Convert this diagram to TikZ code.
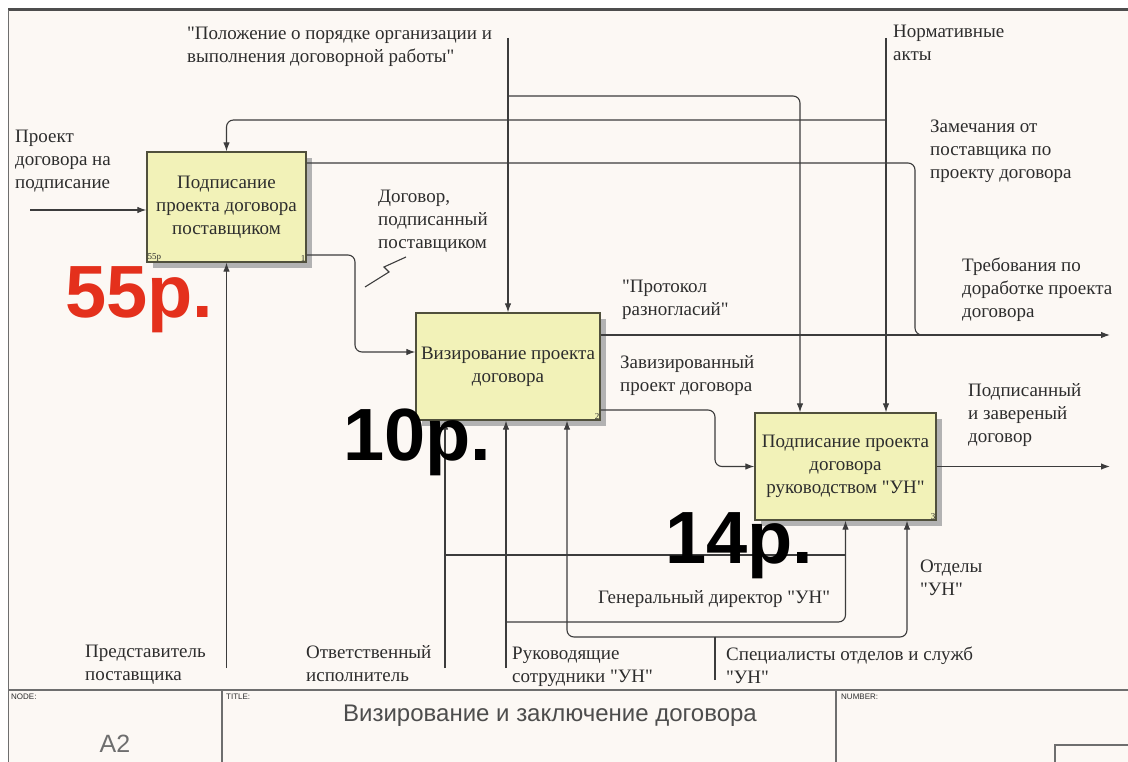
\documentclass[tikz,border=0pt]{standalone}
\usepackage{fontspec}
\setmainfont{Liberation Serif}
\newfontfamily\arialfont{Liberation Sans}
\usetikzlibrary{arrows.meta}
\usetikzlibrary{shadows}

\definecolor{paper}{RGB}{252,248,244}
\definecolor{boxfill}{RGB}{242,242,184}
\definecolor{boxline}{RGB}{80,80,60}
\definecolor{linegray}{RGB}{60,60,60}
\definecolor{textgray}{RGB}{45,45,45}
\definecolor{pricered}{RGB}{228,48,28}
\definecolor{framegray}{RGB}{110,110,110}

\newcommand{\qq}{\textquotedbl}

\tikzset{
  act/.style={draw=boxline, fill=boxfill, line width=1.3pt, inner sep=1pt, align=center,
    text=textgray, font=\fontsize{19}{23}\selectfont,
    drop shadow={shadow xshift=6pt, shadow yshift=-6pt, fill=black!30, opacity=1}},
  lbl/.style={anchor=north west, align=left, inner sep=0pt, text=textgray,
    font=\fontsize{19}{23}\selectfont},
  price/.style={anchor=base west, inner sep=0pt,
    font=\arialfont\bfseries\fontsize{74}{74}\selectfont},
  flow/.style={draw=linegray, line width=1.1pt, rounded corners=7pt,
    -{Latex[length=9pt,width=6.5pt]}},
  wire/.style={draw=linegray, line width=1.1pt, rounded corners=7pt},
  tiny/.style={inner sep=1pt, text=textgray, font=\fontsize{9}{9}\selectfont},
  caption/.style={anchor=north west, inner sep=0pt, text=textgray,
    font=\arialfont\fontsize{8}{8}\selectfont},
}

\begin{document}
\begin{tikzpicture}[x=1pt, y=-1pt]
            % sheet and frame
            \useasboundingbox (0,0) rectangle (1128,762);
            \fill[white] (0,0) rectangle (1128,762);
            \fill[paper] (8,10) rectangle (1128,762);
            \draw[framegray!70!black, line width=3pt] (8,10) -- (1128,10);
            \draw[framegray, line width=1pt] (8,10) -- (8,762);
            \draw[framegray, line width=1.8pt] (8,690) -- (1128,690);
            \draw[framegray, line width=1.2pt] (222,690) -- (222,762);
            \draw[framegray, line width=1.2pt] (836,690) -- (836,762);
            \draw[framegray, line width=1.2pt] (1128,745) -| (1055,762);

            % A1
            \node[act, minimum width=159pt, minimum height=110pt] (b1) at (226.5,207)
                {Подписание\\проекта договора\\поставщиком};
            \node[tiny, anchor=south east] (b1n) at (b1.south east) {1};
            \node[tiny, anchor=south west] (b1c) at (b1.south west) {55р};

            % A2
            \node[act, minimum width=184pt, minimum height=107pt] (b2) at (508,366.5)
                {Визирование проекта\\договора};
            \node[tiny, anchor=south east] (b2n) at (b2.south east) {2};

            % A3
            \node[act, minimum width=181pt, minimum height=107pt] (b3) at (845.5,466.5)
                {Подписание проекта\\договора\\руководством \qq УН\qq};
            \node[tiny, anchor=south east] (b3n) at (b3.south east) {3};

            % ends of the arrows
            \coordinate (in1) at (30,210);
            \coordinate (c1) at (508,38);
            \coordinate (c1j) at (508,96);
            \coordinate (c2) at (886,38);
            \coordinate (c2j) at (886,120);
            \coordinate (o1j) at (915,335);
            \coordinate (o2) at (1110,335);
            \coordinate (o3) at (1110,466.5);
            \coordinate (m1) at (226.5,668);
            \coordinate (m2) at (445,668);
            \coordinate (m2j) at (445,555);
            \coordinate (m3) at (506,668);
            \coordinate (m3j) at (506,622);
            \coordinate (m4) at (715,680);
            \coordinate (m4j) at (715,637);

            % input
            \draw[flow] (in1) -- (in1 -| b1.west);

            % controls
            \draw[flow] (c1) -- (b2.north);
            \draw[flow] (c1j) -| ([xshift=-45.5pt]b3.north);
            \draw[flow] (c2) -- (c2 |- b3.north);
            \draw[flow] (c2j) -| (b1.north);

            % outputs
            \draw[wire] ([yshift=44pt]b1.east) -| (o1j) -- ++(12,0);
            \draw[flow] (o2 -| b2.east) -- (o2);
            \draw[flow] ([yshift=-48pt]b1.east) -| (355,300) |- ([yshift=14.5pt]b2.west);
            \draw[flow] ([yshift=-43.5pt]b2.east) -| (715,440) |- (b3.west);
            \draw[flow] (b3.east) -- (o3);
            \draw[linegray, line width=1.1pt] (365,287) -- (389,272) -- (384,267) -- (406,257);

            % mechanisms
            \draw[flow] (m1) -- (b1.south);
            \draw[flow] (m2) -- (m2 |- b2.south);
            \draw[wire] (m2j) -- (m2j -| b3.south);
            \draw[flow] (m3) -- (m3 |- b2.south);
            \draw[flow] (m3j) -| (b3.south);
            \draw[wire] (m4) -- (m4j);
            \draw[flow] (m4j) -| ([xshift=59pt]b2.south);
            \draw[flow] (m4j) -| ([xshift=61.5pt]b3.south);

            % arrow labels
            \node[lbl] (lpol) at (187,27) {\qq Положение о порядке организации и\\выполнения договорной работы\qq};
            \node[lbl] (lnorm) at (893,25) {Нормативные\\акты};
            \node[lbl] (linp) at (15,130) {Проект\\договора на\\подписание};
            \node[lbl] (lzam) at (930,120) {Замечания от\\поставщика по\\проекту договора};
            \node[lbl] (ldog) at (378,190) {Договор,\\подписанный\\поставщиком};
            \node[lbl] (lprot) at (622,280) {\qq Протокол\\разногласий\qq};
            \node[lbl] (ltreb) at (962,258) {Требования по\\доработке проекта\\договора};
            \node[lbl] (lviz) at (620,355) {Завизированный\\проект договора};
            \node[lbl] (lpodp) at (968,383) {Подписанный\\и завереный\\договор};
            \node[lbl] (lgen) at (598,590) {Генеральный директор \qq УН\qq};
            \node[lbl] (lotd) at (920,560) {Отделы\\\qq УН\qq};
            \node[lbl] (lpred) at (85,645) {Представитель\\поставщика};
            \node[lbl] (lotv) at (306,645) {Ответственный\\исполнитель};
            \node[lbl] (lruk) at (512,647) {Руководящие\\сотрудники \qq УН\qq};
            \node[lbl] (lspec) at (726,647) {Специалисты отделов и служб\\\qq УН\qq};

            % costs
            \node[price, text=pricered] (p1) at (65,318) {55р.};
            \node[price, text=black] (p2) at (343,460) {10р.};
            \node[price, text=black] (p3) at (665,563) {14р.};

            % title block
            \node[caption] (nodecap) at (11,694) {NODE:};
            \node[text=framegray, font=\arialfont\fontsize{25}{25}\selectfont] (nodeno) at (115,744) {A2};
            \node[caption] (titlecap) at (226,694) {TITLE:};
            \node[text=framegray!70!black, font=\arialfont\fontsize{24}{24}\selectfont] (title) at (550,716)
                {Визирование и заключение договора};
            \node[caption] (numcap) at (841,694) {NUMBER:};
        \end{tikzpicture}
\end{document}
